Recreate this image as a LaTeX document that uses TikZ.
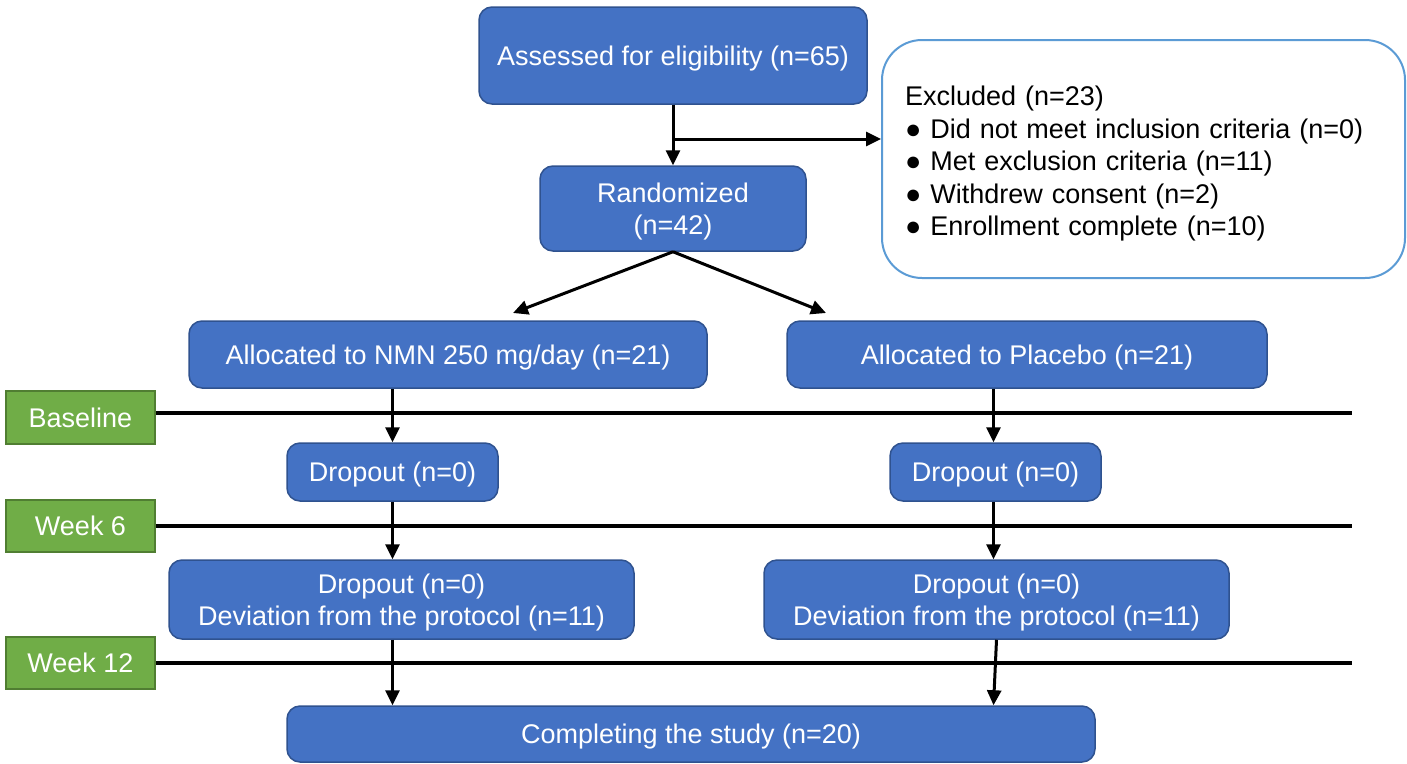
\documentclass[tikz,border=0pt]{standalone}
\usepackage{fontspec}
\setmainfont{Liberation Sans}
\usetikzlibrary{arrows.meta}
\definecolor{bfill}{HTML}{4472C4}
\definecolor{bdraw}{HTML}{2F528F}
\definecolor{gfill}{HTML}{70AD47}
\definecolor{gdraw}{HTML}{507E32}
\definecolor{edraw}{HTML}{5B9BD5}
\begin{document}
\begin{tikzpicture}[x=1pt,y=-1pt,
  font=\fontsize{27}{32.5}\selectfont,
  bluebox/.style={draw=bdraw,fill=bfill,line width=1.5pt,rounded corners=13pt,text=white,align=center,inner sep=0pt,text depth=0pt},
  greenbox/.style={draw=gdraw,fill=gfill,line width=1.5pt,text=white,inner sep=0pt,minimum width=149pt},
  arr/.style={line width=3pt,-{Triangle[length=15pt,width=14pt]}},
  tline/.style={line width=4pt}]
\useasboundingbox (0,0) rectangle (1407,763);
% nodes
\node[bluebox,minimum width=388pt,minimum height=97pt] (assess) at (673,55.5) {Assessed for eligibility (n=65)};
\node[bluebox,minimum width=266pt,minimum height=85pt] (rand) at (673,208.5) {Randomized\\(n=42)};
\node[draw=edraw,fill=white,line width=2pt,rounded corners=40pt,text width=477pt,inner xsep=23pt,inner ysep=0pt,minimum height=238pt,align=left,text depth=126pt] (excl) at (1143.5,159) {Excluded (n=23)\\● Did not meet inclusion criteria (n=0)\\● Met exclusion criteria (n=11)\\● Withdrew consent (n=2)\\● Enrollment complete (n=10)};
\node[bluebox,minimum width=518pt,minimum height=67pt] (nmn) at (448,354.5) {Allocated to NMN 250 mg/day (n=21)};
\node[bluebox,minimum width=480pt,minimum height=67pt] (plac) at (1027,354.5) {Allocated to Placebo (n=21)};
\node[bluebox,minimum width=211pt,minimum height=58pt] (dl) at (392.5,472) {Dropout (n=0)};
\node[bluebox,minimum width=211pt,minimum height=58pt] (dr) at (995.5,472) {Dropout (n=0)};
\node[bluebox,minimum width=465pt,minimum height=79pt] (dtl) at (401.5,599.5) {Dropout (n=0)\\Deviation from the protocol (n=11)};
\node[bluebox,minimum width=465pt,minimum height=79pt] (dtr) at (996.5,599.5) {Dropout (n=0)\\Deviation from the protocol (n=11)};
\node[bluebox,minimum width=808pt,minimum height=56pt] (comp) at (691,734) {Completing the study (n=20)};
\node[greenbox,minimum height=53pt] (base) at (80.5,417.5) {Baseline};
\node[greenbox,minimum height=52pt] (w6) at (80.5,526) {Week 6};
\node[greenbox,minimum height=52pt] (w12) at (80.5,663) {Week 12};
% coordinates
\coordinate (br) at (675,139);
\coordinate (la) at (513,313);
\coordinate (ra) at (826,313);
\coordinate (tend) at (1352,0);
% timelines
\draw[tline] ([yshift=4.5pt]base.east) -- ([yshift=4.5pt]base.east -| tend);
\draw[tline] (w6.east) -- (w6.east -| tend);
\draw[tline] (w12.east) -- (w12.east -| tend);
% connectors
\draw[arr] (assess.south) -- (rand.north);
\draw[arr] (br) -- (br -| excl.west);
\draw[arr] (rand.south) -- (la);
\draw[arr] (rand.south) -- (ra);
\draw[arr] (dl.north |- nmn.south) -- (dl.north);
\draw[arr] (dl.south) -- (dl.south |- dtl.north);
\draw[arr] (dl.south |- dtl.south) -- (dl.south |- comp.north);
\draw[arr] ([xshift=-2pt]dr.north |- plac.south) -- ([xshift=-2pt]dr.north);
\draw[arr] ([xshift=-2pt]dr.south) -- ([xshift=-2pt]dr.south |- dtr.north);
\draw[arr] (dtr.south) -- ([xshift=-2pt]dr.south |- comp.north);
\end{tikzpicture}
\end{document}
